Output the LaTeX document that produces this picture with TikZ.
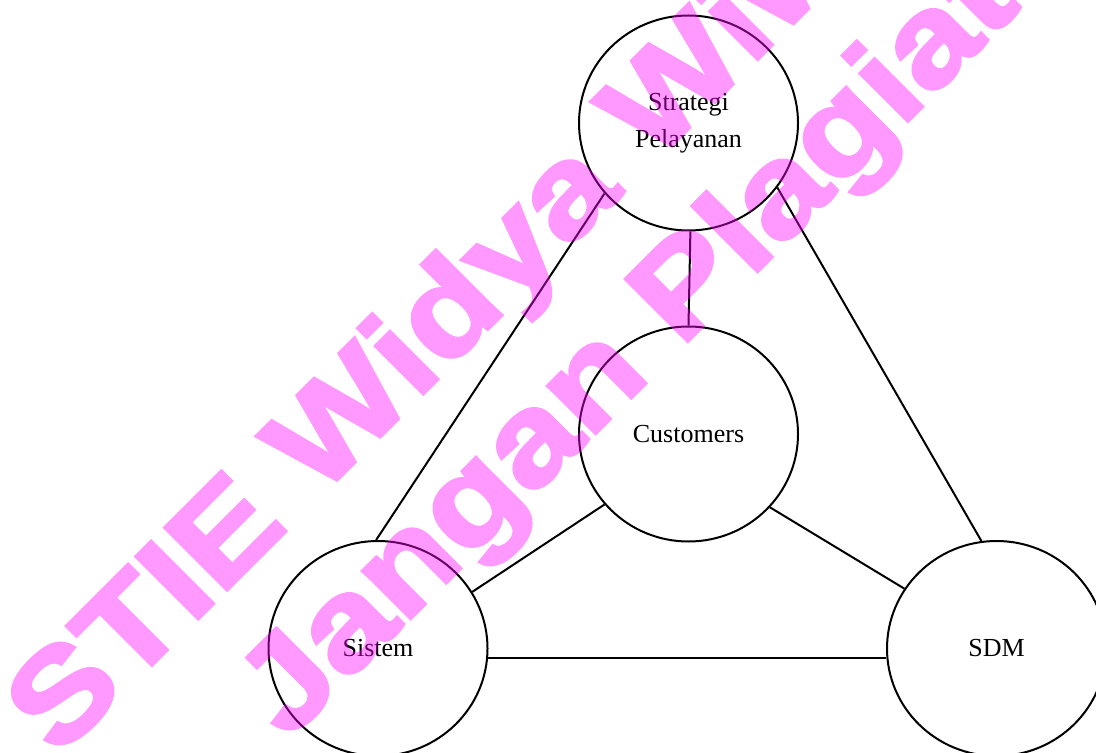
\documentclass[tikz,border=0pt]{standalone}
\usepackage{fontspec}
\setmainfont{Liberation Serif}
\newfontfamily\wmfont{Liberation Sans}[BoldFeatures={FakeBold=2.5}]
\usetikzlibrary{shapes.geometric}
\definecolor{wmpink}{RGB}{255,0,255}
\begin{document}
\begin{tikzpicture}[x=0.5pt,y=-0.5pt,
  bubble/.style={draw,ellipse,line width=1pt,minimum width=109.5pt,minimum height=107.5pt,inner sep=0pt,font=\fontsize{13}{18.5}\selectfont,align=center},
  link/.style={line width=1pt},
  wm/.style={rotate=45,anchor=base,text=wmpink,inner sep=0pt,font=\wmfont\bfseries\fontsize{64}{64}\selectfont}]
\useasboundingbox (0,0) rectangle (1096,753);
\node[bubble] (strat) at (688.5,123) {Strategi\\Pelayanan};
\node[bubble] (cust) at (688.5,434) {Customers};
\node[bubble] (sis) at (378,648.5) {Sistem};
\node[bubble] (sdm) at (996.5,648.5) {SDM};
\draw[link] (strat.271) -- (cust.90);
\draw[link] (strat.220) -- (sis.91);
\draw[link] (strat.324) -- (sdm.98);
\draw[link] (cust.220) -- (sis.31.5);
\draw[link] (cust.318) -- (sdm.147.4);
\draw[link] (sis.355) -- (sdm.185.3);
\begin{scope}[transparency group,opacity=0.4]
\node[wm] (wm1) at (549,268) {\scalebox{1.15}[1]{STIE Widya Wiwaha}};
\node[wm] (wm2) at (655,374) {\scalebox{1.15}[1]{Jangan Plagiat}};
\end{scope}
\end{tikzpicture}
\end{document}
